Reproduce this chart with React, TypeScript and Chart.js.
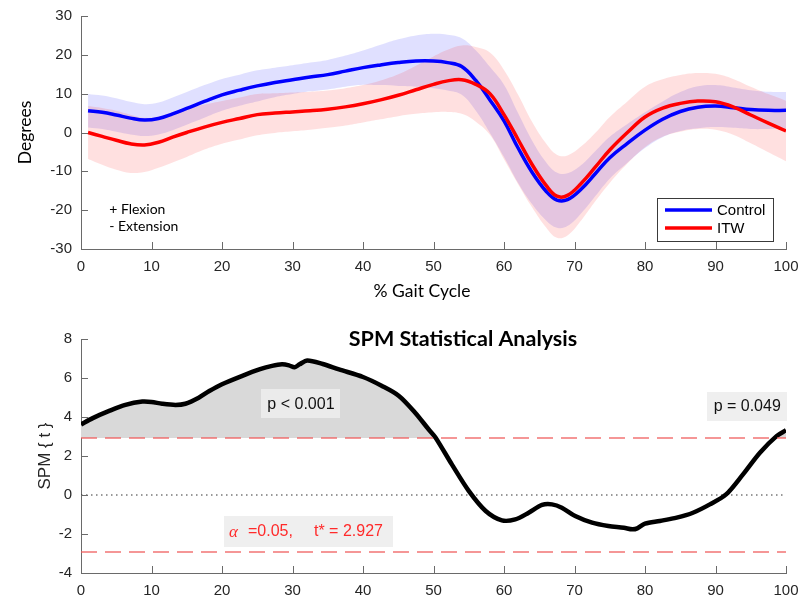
import { useEffect, useRef } from "react";
import { Chart, registerables } from "chart.js";

Chart.register(...registerables);

// ---------- Top panel: knee angle (degrees) over % gait cycle ----------
const gaitX = [1, 3, 5, 7, 9, 11, 13, 15, 17.5, 20, 22.5, 25, 27.5, 30, 32.5, 35, 37.5, 40, 42.5, 45, 47.5, 50, 52, 54, 56, 58, 60, 62, 64, 66, 67.5, 69, 71, 73, 75, 77.5, 80, 82.5, 85, 87.5, 90, 92.5, 95, 97.5, 100];
const controlMean = [5.6, 5.2, 4.5, 3.7, 3.2, 3.6, 4.8, 6.2, 8.0, 9.7, 10.9, 12.0, 12.9, 13.6, 14.3, 14.9, 15.8, 16.7, 17.4, 18.0, 18.4, 18.4, 18.0, 17.0, 13.4, 8.4, 3.0, -4.0, -10.3, -15.2, -17.4, -17.3, -14.5, -10.5, -6.5, -2.8, 0.6, 3.4, 5.4, 6.5, 6.8, 6.4, 5.9, 5.7, 5.7];
const controlSD = [4.3, 4.3, 4.3, 4.2, 4.1, 4.1, 4.2, 4.2, 4.2, 4.1, 4.0, 4.0, 3.8, 3.7, 3.7, 3.8, 4.0, 4.4, 5.2, 6.0, 6.6, 7.0, 7.2, 7.3, 7.8, 8.5, 9.3, 9.0, 8.2, 7.5, 7.1, 6.8, 6.2, 5.8, 5.4, 5.0, 4.6, 4.6, 5.0, 5.4, 5.4, 5.2, 5.0, 4.8, 4.7];
const itwMean = [0.0, -1.0, -2.0, -2.9, -3.2, -2.5, -1.2, 0.0, 1.4, 2.6, 3.6, 4.6, 5.0, 5.3, 5.6, 6.0, 6.6, 7.4, 8.4, 9.6, 11.0, 12.4, 13.3, 13.6, 12.4, 10.0, 4.6, -1.8, -8.3, -13.7, -16.4, -16.2, -13.0, -8.8, -4.5, 0.0, 4.0, 6.3, 7.5, 8.1, 7.9, 6.6, 4.5, 2.4, 0.4];
const itwSD = [6.8, 7.3, 7.6, 7.5, 7.0, 6.6, 6.5, 6.3, 5.8, 5.5, 5.4, 5.3, 5.1, 5.0, 4.9, 4.8, 4.8, 4.8, 5.0, 5.4, 6.2, 7.2, 8.0, 8.8, 9.6, 10.6, 11.5, 11.5, 11.0, 10.8, 10.7, 10.3, 9.5, 8.8, 8.5, 8.0, 7.8, 7.4, 7.3, 7.2, 7.2, 7.2, 7.3, 7.5, 7.8];
const seriesNames = ["Control", "ITW"];
const topXTicks = [0, 10, 20, 30, 40, 50, 60, 70, 80, 90, 100];
const topYTicks = [-30, -20, -10, 0, 10, 20, 30];

// ---------- Bottom panel: SPM{t} ----------
const spmX = [0, 1.6, 4, 6.3, 8.7, 10, 11.5, 13.4, 14.8, 16.7, 18.2, 20, 22.8, 25.4, 27.1, 28.5, 29.5, 30.3, 31, 32.1, 34.3, 36.6, 40, 42.7, 45.1, 47.4, 49.3, 50.3, 52.6, 55, 57.4, 59.7, 61.6, 63.5, 65.4, 66.8, 68.2, 70.1, 72.5, 74.8, 77, 78.2, 78.9, 80, 82.1, 84.5, 86.8, 89.2, 91.5, 93.9, 96.3, 98.7, 100];
const spmT = [3.62, 3.93, 4.31, 4.62, 4.79, 4.77, 4.68, 4.62, 4.68, 4.99, 5.33, 5.68, 6.10, 6.45, 6.62, 6.70, 6.65, 6.55, 6.70, 6.90, 6.72, 6.44, 6.05, 5.59, 5.08, 4.22, 3.37, 2.94, 1.57, 0.21, -0.82, -1.30, -1.25, -0.91, -0.51, -0.48, -0.65, -1.08, -1.42, -1.59, -1.68, -1.76, -1.71, -1.47, -1.33, -1.16, -0.91, -0.48, 0.03, 1.06, 2.17, 3.03, 3.32];
const tCritical = 2.927;
const botXTicks = [0, 10, 20, 30, 40, 50, 60, 70, 80, 90, 100];
const botYTicks = [-4, -2, 0, 2, 4, 6, 8];
const clusterP = ["p < 0.001", "p = 0.049"];

// ---------- styling ----------
const AXIS = "#6a6a6a";
const TXT = "#262626";
const SANS = "'Liberation Sans', Arial, sans-serif";
const HUM = "Lato, 'Open Sans', sans-serif";
const TICK_LEN = 7;

const setTicks = (values: number[]) => (scale: any) => {
  scale.ticks = values.map((v) => ({ value: v }));
};

function drawInwardTicks(chart: any) {
  const { ctx, chartArea: a, scales } = chart;
  ctx.save();
  ctx.strokeStyle = AXIS;
  ctx.lineWidth = 1;
  ctx.beginPath();
  scales.x.ticks.forEach((t: any) => {
    const px = Math.round(scales.x.getPixelForValue(t.value)) + 0.5;
    ctx.moveTo(px, a.bottom);
    ctx.lineTo(px, a.bottom - TICK_LEN);
  });
  scales.y.ticks.forEach((t: any) => {
    const py = Math.round(scales.y.getPixelForValue(t.value)) + 0.5;
    ctx.moveTo(a.left, py);
    ctx.lineTo(a.left + TICK_LEN, py);
  });
  ctx.stroke();
  ctx.restore();
}

function axisScales(xt: number[], yt: number[], ymin: number, ymax: number, xh: number) {
  const tickFont = { family: SANS, size: 15 };
  return {
    x: {
      type: "linear",
      min: 0,
      max: 100,
      afterBuildTicks: setTicks(xt),
      afterFit: (s: any) => {
        s.height = xh;
        s.paddingLeft = 0;
        s.paddingRight = 0;
      },
      grid: { display: false, drawTicks: false },
      border: { display: true, color: AXIS, width: 1 },
      ticks: { font: tickFont, color: TXT, padding: 9, maxRotation: 0, autoSkip: false, callback: (v: any) => String(v) },
    },
    y: {
      type: "linear",
      min: ymin,
      max: ymax,
      afterBuildTicks: setTicks(yt),
      afterFit: (s: any) => {
        s.width = 81;
        s.paddingTop = 0;
        s.paddingBottom = 0;
      },
      grid: { display: false, drawTicks: false },
      border: { display: true, color: AXIS, width: 1 },
      ticks: { font: tickFont, color: TXT, padding: 9, autoSkip: false, callback: (v: any) => String(v) },
    },
  };
}

const pts = (xs: number[], ys: number[]) => xs.map((x, i) => ({ x, y: ys[i] }));

function topConfig(): any {
  const cUp = gaitX.map((x, i) => ({ x, y: controlMean[i] + controlSD[i] }));
  const cLo = gaitX.map((x, i) => ({ x, y: controlMean[i] - controlSD[i] }));
  const iUp = gaitX.map((x, i) => ({ x, y: itwMean[i] + itwSD[i] }));
  const iLo = gaitX.map((x, i) => ({ x, y: itwMean[i] - itwSD[i] }));
  const band = { borderWidth: 0, pointRadius: 0, tension: 0.4 };
  const decor = {
    id: "topDecor",
    afterDraw(chart: any) {
      drawInwardTicks(chart);
      const { ctx, chartArea: a, scales } = chart;
      ctx.save();
      ctx.fillStyle = "#000";
      ctx.font = `17.5px ${HUM}`;
      ctx.textAlign = "center";
      ctx.textBaseline = "middle";
      ctx.save();
      ctx.translate(25, (a.top + a.bottom) / 2);
      ctx.rotate(-Math.PI / 2);
      ctx.fillText("Degrees", 0, 0);
      ctx.restore();
      ctx.fillText("% Gait Cycle", 422, 291);
      ctx.font = `14px ${HUM}`;
      ctx.textAlign = "left";
      ctx.fillText("+ Flexion", scales.x.getPixelForValue(4), scales.y.getPixelForValue(-19.7));
      ctx.fillText("- Extension", scales.x.getPixelForValue(4), scales.y.getPixelForValue(-24.3));
      // legend
      const bx = a.right - 129;
      const by = a.bottom - 51;
      ctx.fillStyle = "#fff";
      ctx.fillRect(bx, by, 116, 43);
      ctx.strokeStyle = "#3a3a3a";
      ctx.lineWidth = 1;
      ctx.strokeRect(bx + 0.5, by + 0.5, 116, 43);
      const cols = ["#0000ff", "#ff0000"];
      seriesNames.forEach((n, k) => {
        const yy = by + 12 + k * 18;
        ctx.strokeStyle = cols[k];
        ctx.lineWidth = 3.5;
        ctx.beginPath();
        ctx.moveTo(bx + 8, yy);
        ctx.lineTo(bx + 55, yy);
        ctx.stroke();
        ctx.fillStyle = "#000";
        ctx.font = `15px ${SANS}`;
        ctx.textAlign = "left";
        ctx.fillText(n, bx + 60, yy + 1);
      });
      ctx.restore();
    },
  };
  return {
    type: "line",
    data: {
      datasets: [
        { label: seriesNames[0], data: pts(gaitX, controlMean), borderColor: "#0000ff", borderWidth: 3.5, pointRadius: 0, tension: 0.4, fill: false, order: 0 },
        { label: seriesNames[1], data: pts(gaitX, itwMean), borderColor: "#ff0000", borderWidth: 3.5, pointRadius: 0, tension: 0.4, fill: false, order: -1 },
        { label: "cUp", data: cUp, ...band, fill: "+1", backgroundColor: "rgba(0,0,255,0.12)", order: 3 },
        { label: "cLo", data: cLo, ...band, fill: false, order: 3 },
        { label: "iUp", data: iUp, ...band, fill: "+1", backgroundColor: "rgba(255,0,0,0.12)", order: 2 },
        { label: "iLo", data: iLo, ...band, fill: false, order: 2 },
      ],
    },
    options: {
      animation: false,
      responsive: false,
      maintainAspectRatio: false,
      layout: { padding: { left: 0, right: 14, top: 16, bottom: 0 } },
      plugins: { legend: { display: false }, tooltip: { enabled: false }, title: { display: false } },
      scales: axisScales(topXTicks, topYTicks, -30, 30, 51),
    },
    plugins: [decor],
  };
}

function botConfig(): any {
  const decor = {
    id: "botDecor",
    afterDraw(chart: any) {
      drawInwardTicks(chart);
      const { ctx, chartArea: a, scales } = chart;
      ctx.save();
      ctx.fillStyle = "#000";
      ctx.textAlign = "center";
      ctx.textBaseline = "middle";
      ctx.font = `bold 21.5px ${HUM}`;
      ctx.fillText("SPM Statistical Analysis", 463, 39);
      ctx.font = `17px ${SANS}`;
      ctx.fillStyle = TXT;
      ctx.save();
      ctx.translate(45, (a.top + a.bottom) / 2);
      ctx.rotate(-Math.PI / 2);
      ctx.fillText("SPM { t }", 0, 0);
      ctx.restore();
      const box = (cx: number, cy: number, w: number, h: number, bg: string) => {
        ctx.fillStyle = bg;
        ctx.fillRect(Math.round(cx - w / 2), Math.round(cy - h / 2), w, h);
      };
      ctx.font = `16px ${SANS}`;
      // p < 0.001
      let cx = scales.x.getPixelForValue(31.2);
      let cy = scales.y.getPixelForValue(4.69);
      box(cx, cy, 79, 29, "#ebebeb");
      ctx.fillStyle = "#111";
      ctx.fillText(clusterP[0], cx, cy + 1);
      // p = 0.049
      cx = scales.x.getPixelForValue(94.5);
      cy = scales.y.getPixelForValue(4.56);
      box(cx, cy, 80, 29, "#efefef");
      ctx.fillStyle = "#111";
      ctx.fillText(clusterP[1], cx, cy + 1);
      // alpha label
      cx = scales.x.getPixelForValue(32.2);
      cy = scales.y.getPixelForValue(-1.85);
      box(cx, cy, 169, 31, "#efefef");
      const left = Math.round(cx - 84.5);
      ctx.fillStyle = "#ff2a2a";
      ctx.textAlign = "left";
      ctx.font = `italic 17px 'Liberation Serif', serif`;
      ctx.fillText("α", left + 5, cy + 1);
      ctx.font = `16px ${SANS}`;
      ctx.fillText("=0.05,", left + 24, cy + 1);
      ctx.fillText("t* = " + tCritical.toFixed(3), left + 90, cy + 1);
      ctx.restore();
    },
  };
  return {
    type: "line",
    data: {
      datasets: [
        {
          label: "SPM",
          data: pts(spmX, spmT),
          borderColor: "#000",
          borderWidth: 4.5,
          pointRadius: 0,
          tension: 0.3,
          fill: { target: { value: tCritical }, above: "rgb(217,217,217)", below: "rgba(0,0,0,0)" },
          order: 1,
        },
        { label: "thrUp", data: [{ x: 0, y: tCritical }, { x: 100, y: tCritical }], borderColor: "rgba(240,90,90,0.85)", borderWidth: 1.5, borderDash: [16, 8], pointRadius: 0, fill: false, order: 0 },
        { label: "thrLo", data: [{ x: 0, y: -tCritical }, { x: 100, y: -tCritical }], borderColor: "rgba(240,90,90,0.85)", borderWidth: 1.5, borderDash: [16, 8], pointRadius: 0, fill: false, order: 0 },
        { label: "zero", data: [{ x: 0, y: 0 }, { x: 100, y: 0 }], borderColor: "#333", borderWidth: 1, borderDash: [1.5, 3.5], pointRadius: 0, fill: false, order: 2 },
      ],
    },
    options: {
      animation: false,
      responsive: false,
      maintainAspectRatio: false,
      layout: { padding: { left: 0, right: 14, top: 39, bottom: 0 } },
      plugins: { legend: { display: false }, tooltip: { enabled: false }, title: { display: false } },
      scales: axisScales(botXTicks, botYTicks, -4, 8, 25),
    },
    plugins: [decor],
  };
}

export default function App() {
  const topRef = useRef<HTMLCanvasElement>(null);
  const botRef = useRef<HTMLCanvasElement>(null);
  useEffect(() => {
    const top = new Chart(topRef.current as HTMLCanvasElement, topConfig());
    const bot = new Chart(botRef.current as HTMLCanvasElement, botConfig());
    return () => {
      top.destroy();
      bot.destroy();
    };
  }, []);
  return (
    <div style={{ position: "absolute", left: 0, top: 0, width: 800, height: 598, background: "#fff" }}>
      <canvas ref={topRef} width={800} height={300} style={{ position: "absolute", left: 0, top: 0 }} />
      <canvas ref={botRef} width={800} height={298} style={{ position: "absolute", left: 0, top: 300 }} />
    </div>
  );
}
